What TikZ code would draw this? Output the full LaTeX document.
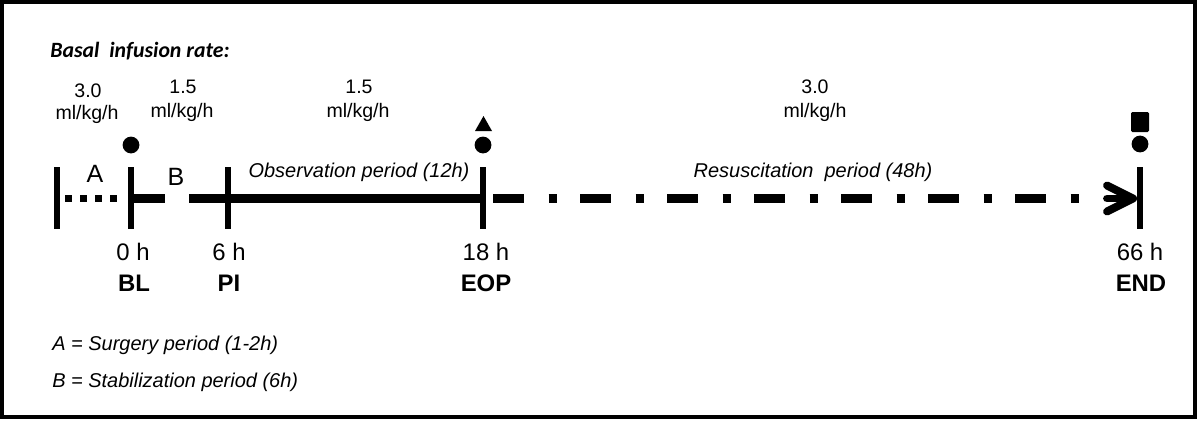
\documentclass[tikz,border=0pt]{standalone}
\usepackage{fontspec}
\setmainfont{Liberation Sans}
\newfontfamily\calib{Carlito}
\usetikzlibrary{calc}
\tikzset{
  frame/.style={draw=black,line width=2.8pt},
  tick/.style={line width=3.6pt},
  mainline/.style={line width=5.8pt},
  dotline/.style={line width=5.4pt,dash pattern=on 0.175cm off 0.2cm},
  dashdot/.style={line width=5.8pt,dash pattern=on 0.775cm off 0.6125cm on 0.2cm off 0.5875cm},
  chev/.style={line width=5.6pt,line join=round,line cap=round},
  dotmark/.style={circle,fill=black,inner sep=0pt,minimum size=0.42cm},
  rate/.style={anchor=base,inner sep=0pt,font=\fontsize{13.9}{16}\selectfont},
  timelbl/.style={anchor=base,inner sep=0pt,font=\fontsize{17}{20}\selectfont},
  evlbl/.style={anchor=base,inner sep=0pt,font=\fontsize{17}{20}\selectfont\bfseries},
  letter/.style={anchor=base,inner sep=0pt,font=\fontsize{17.8}{20}\selectfont},
  period/.style={anchor=base,inner sep=0pt,font=\fontsize{14.2}{17}\selectfont\itshape},
  legend/.style={anchor=base west,inner sep=0pt,font=\fontsize{14.2}{17}\selectfont\itshape},
}
\begin{document}
\begin{tikzpicture}[x=0.025cm,y=-0.025cm]
\useasboundingbox (0,0) rectangle (1200,421);
\draw[frame] (2,2) rectangle (1195,417);

% title
\node[anchor=base west,inner sep=0pt,font=\calib\fontsize{15.5}{18}\selectfont\bfseries\itshape] (title) at (50,57) {Basal\ \ infusion rate:};

% rates
\node[rate] (r1a) at (88,97) {3.0};
\node[rate] (r1b) at (87,119) {ml/kg/h};
\node[rate] (r2a) at (183,93) {1.5};
\node[rate] (r2b) at (182,117) {ml/kg/h};
\node[rate] (r3a) at (359,93) {1.5};
\node[rate] (r3b) at (358,117) {ml/kg/h};
\node[rate] (r4a) at (815,93) {3.0};
\node[rate] (r4b) at (815,117) {ml/kg/h};

% tick positions
\coordinate (tA) at (57,198.5);
\coordinate (t0) at (131,198.5);
\coordinate (t6) at (228,198.5);
\coordinate (t18) at (483,198.5);
\coordinate (t66) at (1140,198.5);

% ticks
\foreach \t in {tA,t0,t6,t18,t66}
  \draw[tick] ($(\t)+(0,-31.5)$) -- ($(\t)+(0,30.5)$);

% segments
\draw[dotline] ($(tA)+(8,0)$) -- ($(t0)+(-12,0)$);
\draw[mainline] (t0) -- ($(t0)+(34,0)$);
\draw[mainline] ($(t6)+(-39,0)$) -- (t6);
\draw[mainline] (t6) -- (t18);
\draw[dashdot] ($(t18)+(10,0)$) -- ($(t66)+(-60,0)$);
\coordinate (arrtip) at ($(t66)+(-7,0)$);
\draw[chev] ($(arrtip)+(-26,-13)$) -- (arrtip) -- ($(arrtip)+(-26,13)$);
\draw[chev] ($(arrtip)+(-26,0)$) -- (arrtip);

% period letters
\node[letter] (la) at (95,182) {A};
\node[letter] (lb) at (176,185) {B};
\node[period] (obs) at (359,177) {Observation period (12h)};
\node[period] (res) at (813,177) {Resuscitation\ \ period (48h)};

% markers
\node[dotmark] (d0) at (131,145) {};
\node[dotmark] (d18) at (483,145) {};
\node[dotmark] (d66) at (1140,144) {};
\fill (475,131) -- (492,131) -- (483.5,116) -- cycle;
\fill[rounded corners=1pt] (1131,112) rectangle (1149,132);

% time labels
\node[timelbl] (h0) at (133,260) {0 h};
\node[timelbl] (h6) at (229,260) {6 h};
\node[timelbl] (h18) at (486,260) {18 h};
\node[timelbl] (h66) at (1140,260) {66 h};
\node[evlbl] (e0) at (134,291) {BL};
\node[evlbl] (e6) at (229,291) {PI};
\node[evlbl] (e18) at (486,291) {EOP};
\node[evlbl] (e66) at (1141,291) {END};

% legend
\node[legend] (lgA) at (52,350) {A = Surgery period (1-2h)};
\node[legend] (lgB) at (52,387) {B = Stabilization period (6h)};
\end{tikzpicture}
\end{document}
